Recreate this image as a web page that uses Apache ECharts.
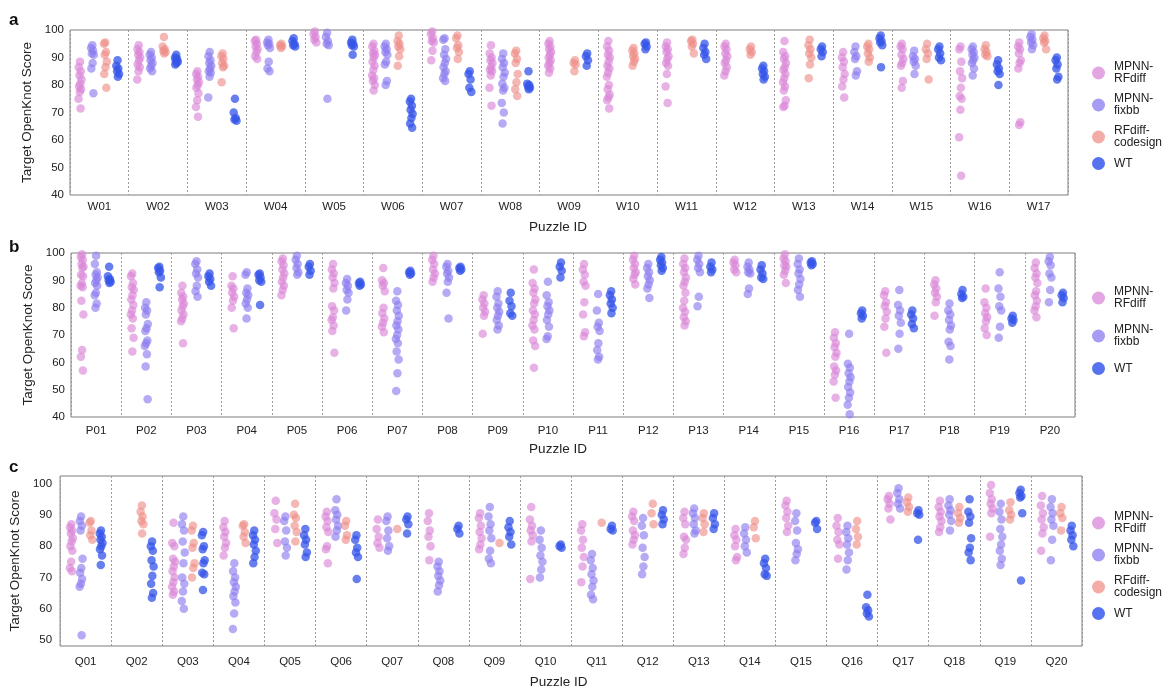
<!DOCTYPE html>
<html>
<head>
<meta charset="utf-8">
<script src="https://cdn.jsdelivr.net/npm/echarts@6/dist/echarts.min.js"></script>
<style>
  html, body { margin: 0; padding: 0; background: #ffffff; }
  #chart { width: 1163px; height: 690px; }
</style>
</head>
<body>
<div id="chart"></div>
<script>
// ---- Puzzle IDs ----
const puzzlesA = ['W01','W02','W03','W04','W05','W06','W07','W08','W09','W10','W11','W12','W13','W14','W15','W16','W17'];
const puzzlesB = ['P01','P02','P03','P04','P05','P06','P07','P08','P09','P10','P11','P12','P13','P14','P15','P16','P17','P18','P19','P20'];
const puzzlesC = ['Q01','Q02','Q03','Q04','Q05','Q06','Q07','Q08','Q09','Q10','Q11','Q12','Q13','Q14','Q15','Q16','Q17','Q18','Q19','Q20'];

// ---- Tick labels ----
const yTicksAB = [40, 50, 60, 70, 80, 90, 100];
const yTicksC = [50, 60, 70, 80, 90, 100];

// ---- Panel a: Target OpenKnot scores, one list per puzzle ----
const rfdiffA = [
  [88.5, 86.5, 85, 83.5, 82, 80.5, 79.5, 78.5, 77.5, 75, 71.5],
  [94.5, 93, 92, 91, 90, 89, 87.5, 86.5, 85, 82],
  [85, 84, 83, 82, 81, 80, 79, 77, 74.5, 72, 68.5],
  [96.5, 96, 95, 94, 93, 92, 90.5, 89.5],
  [99.5, 98.5, 97.5, 96.5, 95.5],
  [95, 94, 92.5, 91.5, 91, 90, 88.5, 87, 85.5, 83.5, 82.5, 81.5, 80, 78],
  [99.5, 98.5, 97, 96, 95.5, 92.5, 89],
  [94.5, 91.5, 90, 89, 88, 86.5, 85.5, 85, 83.5, 79, 72.5],
  [96, 95, 94, 93, 92, 91, 90, 89, 88, 87, 86, 84.5],
  [96, 94, 92.5, 91, 90, 88.5, 87, 86, 84.5, 83, 80, 78.5, 76.5, 75.5, 74.5, 71.5],
  [95.5, 94, 93, 92, 90.5, 89.5, 88, 87, 84, 79.5, 73.5],
  [95, 94, 93, 91.5, 90.5, 89, 88, 86.5, 85, 83.5],
  [96, 92, 90.5, 89.5, 88, 86.5, 85.5, 84, 82.5, 81, 79.5, 78, 74.5, 72.5, 72],
  [92, 90, 88.5, 86.5, 84, 82, 79.5, 75.5],
  [95, 94, 93, 91, 89.5, 88, 87, 81.5, 79],
  [94, 93, 88.5, 85, 82.5, 79, 76, 75, 71, 61, 47],
  [95.5, 94, 93, 91.5, 89, 88, 86, 66.5, 65.5]
];
const fixbbA = [
  [94.5, 93.5, 92.5, 91.5, 91, 88, 86, 77],
  [92, 91, 90, 89, 88, 87, 86, 85],
  [92, 90.5, 89, 88, 87, 86, 85, 84.5, 83, 75.5],
  [96.5, 95.5, 95, 94.5, 93.5, 88.5, 86, 85],
  [99, 97.5, 96, 95, 94.5, 75],
  [95, 94, 93, 92, 91, 88.5, 87.5, 81.5, 80],
  [97, 96.5, 93, 91, 89.5, 88, 86.5, 85, 84, 82.5, 81.5],
  [91.5, 89.5, 88, 86.5, 84.5, 83, 80.5, 79, 78, 73.5, 70, 66],
  [], [], [], [], [],
  [94, 92, 90.5, 89.5, 85, 83.5],
  [92.5, 90.5, 89.5, 88.5, 87, 84],
  [94, 93, 92, 91, 90, 89, 88, 86, 83.5],
  [98.5, 97.5, 96.5, 95.5, 94.5, 93]
];
const codesignA = [
  [95.5, 95, 92, 91, 88.5, 86.5, 84, 79],
  [97.5, 94, 93, 92.5, 92, 91.5],
  [91.5, 90.5, 89.5, 88, 87, 86.5, 81],
  [95, 94.5, 94, 93.5],
  [],
  [98, 96, 95, 94, 93, 90.5, 87],
  [98, 97, 94.5, 93.5, 92, 89.5],
  [92.5, 91.5, 89.5, 88, 84, 81, 78.5, 76],
  [89, 88, 87.5, 85],
  [93.5, 92.5, 91.5, 90.5, 89.5, 88.5, 87],
  [96.5, 96, 95, 94, 91.5],
  [94, 93, 92, 91],
  [96.5, 94.5, 93, 91.5, 90, 87.5, 82.5],
  [95, 94, 93, 91.5, 90, 88.5],
  [95, 93, 91.5, 89.5, 82],
  [94.5, 93, 92, 91, 90.5],
  [98, 97, 96, 95.5, 93]
];
const wtA = [
  [89, 87, 86, 85, 84, 83],
  [91, 90, 89.5, 89, 88.5, 88, 87.5],
  [75, 70, 68, 67.5, 67],
  [97, 96, 95, 94.5, 94],
  [96.5, 95.5, 95, 94.5, 94, 91],
  [75, 74, 72.5, 71, 69.5, 68, 66, 64.5],
  [85, 84, 82, 79, 77.5],
  [85, 80.5, 80, 79.5, 79, 78.5],
  [91.5, 90.5, 89, 87],
  [95.5, 95, 94, 93],
  [95, 93.5, 92, 91, 89.5],
  [87, 86, 85, 84, 83, 82],
  [94, 93, 92, 90.5],
  [98, 97, 96, 95.5, 94.5, 86.5],
  [94, 93, 91.5, 90, 89],
  [89, 87.5, 86, 85, 84, 80],
  [90, 89, 87.5, 86, 83, 82]
];

// ---- Panel b ----
const rfdiffB = [
  [99.5, 98.5, 97.5, 96, 95, 94.5, 92, 91.5, 89, 88, 87.5, 82.5, 77.5, 64.5, 62, 57],
  [92.5, 91.5, 89, 87.5, 86.5, 84.5, 83, 81, 79, 77.5, 76, 72.5, 69, 64],
  [88, 85.5, 84, 83, 81.5, 80.5, 79, 77.5, 76, 75, 67],
  [91.5, 88, 87, 85.5, 84, 82.5, 80, 72.5],
  [98, 97, 95.5, 94, 92.5, 91, 89.5, 88, 86.5, 84.5],
  [96, 94, 92.5, 91, 89, 87, 80.5, 79, 76.5, 75.5, 73.5, 71.5, 63.5],
  [94.5, 90, 89, 88, 86, 80, 78, 76, 74.5, 73, 71],
  [99, 97.5, 96, 94, 92.5, 91, 89.5],
  [84.5, 83, 81.5, 80, 78.5, 77, 70.5],
  [94, 89, 87, 85.5, 83, 81.5, 79, 77.5, 75.5, 73.5, 72, 68, 66, 58],
  [96, 94, 92, 89.5, 88, 82, 77.5, 71, 69.5],
  [99, 97.5, 96, 94.5, 93, 92, 90.5, 88.5],
  [98, 96, 94.5, 93, 91, 89.5, 88, 85.5, 82.5, 80, 78.5, 76.5, 75, 73.5],
  [97.5, 96.5, 95.5, 94, 93],
  [99.5, 98, 97, 95.5, 95, 93.5, 92, 89],
  [71, 69, 67, 65.5, 63.5, 62, 58.5, 57, 55.5, 53, 47],
  [86, 84.5, 82, 80.5, 78.5, 76, 73, 63.5],
  [90, 88.5, 87, 85.5, 84, 82, 77],
  [87, 82, 80, 78, 76.5, 75, 72.5, 70],
  [96.5, 94.5, 92.5, 91, 89, 86, 84.5, 82.5, 80.5, 79, 76.5]
];
const fixbbB = [
  [99, 96, 93, 92, 91, 90, 89, 88, 85.5, 84.5, 81.5, 80],
  [82, 80, 79, 77.5, 74, 72.5, 71.5, 68, 67, 66, 63, 58.5, 46.5],
  [97, 96, 94, 92.5, 91, 88, 86, 84],
  [93, 92, 87, 85.5, 84.5, 83, 81.5, 80, 76],
  [99, 97.5, 96, 94.5, 93, 92],
  [90.5, 89, 88, 86.5, 85.5, 83, 79],
  [86, 82.5, 81, 79, 77, 75, 73.5, 72, 70, 68.5, 67, 64, 61, 56, 49.5],
  [96, 95, 93.5, 92.5, 91, 89.5, 85.5, 76],
  [86, 84, 81.5, 80, 78.5, 77, 75.5, 73.5, 72],
  [89.5, 84.5, 82, 80.5, 79, 77.5, 75.5, 73, 69.5, 68.5],
  [85, 79, 74.5, 73, 71.5, 67, 64.5, 62, 61],
  [96, 94.5, 93, 91.5, 90, 88.5, 87, 83.5],
  [99, 97.5, 96, 94.5, 93, 84, 80.5],
  [96.5, 95, 94, 93, 92.5, 87, 85],
  [98, 96, 94, 92.5, 90.5, 88.5, 86.5, 84],
  [70.5, 59.5, 58, 56, 54.5, 53, 51, 49, 47, 44.5, 41],
  [86.5, 81, 79, 77, 74.5, 70.5, 65],
  [81.5, 79, 77.5, 75.5, 73.5, 72, 67.5, 66, 61],
  [93, 87, 84, 80.5, 79, 73, 69],
  [98.5, 97, 95.5, 92.5, 91, 86.5, 82]
];
const wtB = [
  [95, 91.5, 90.5, 90, 89.5, 89],
  [95, 94.5, 93.5, 93, 91, 87.5],
  [92.5, 91.5, 90.5, 89.5, 88],
  [92.5, 92, 91, 90, 89.5, 81],
  [96, 95, 93.5, 92],
  [89.5, 89, 88.5, 88],
  [93.5, 93, 92.5, 92],
  [95, 94.5, 94, 93.5],
  [85.5, 82.5, 80.5, 78, 77],
  [96.5, 95, 93.5, 91],
  [86, 84.5, 83, 81.5, 80, 78],
  [98.5, 97.5, 96.5, 95.5, 94.5, 93.5],
  [96.5, 95, 94, 93],
  [95.5, 94, 92.5, 91, 90.5],
  [97, 96.5, 96, 95.5],
  [79, 78, 77, 76],
  [79, 77.5, 76, 74, 72.5],
  [86.5, 85, 84, 83.5],
  [77, 76, 75.5, 74.5],
  [85.5, 84.5, 83.5, 82]
];

// ---- Panel c ----
const rfdiffC = [
  [87, 86, 85, 84, 82.5, 81.5, 80, 78.5, 75, 73, 72],
  [],
  [87.5, 81, 80, 76, 75, 73.5, 72, 70, 68.5, 67, 65.5, 64.5],
  [88, 86, 84.5, 83, 81, 79.5, 77],
  [94.5, 90.5, 88.5, 85.5, 81],
  [91, 89.5, 88, 86, 84.5, 80, 79, 74.5],
  [88.5, 85.5, 83, 81, 79.5],
  [90.5, 88, 85, 83, 80, 75.5],
  [90.5, 89, 86.5, 84.5, 82.5, 80.5, 79],
  [92.5, 88.5, 86.5, 85, 83.5, 81.5, 69.5],
  [87, 85, 82, 79.5, 76.5, 73.5, 68.5],
  [91, 89.5, 88, 85, 83.5, 82, 80.5],
  [91, 89, 87, 83, 82, 79.5, 77.5],
  [85.5, 83.5, 82, 80, 76.5, 75.5],
  [94.5, 93, 91, 89, 86.5, 84.5],
  [89, 86.5, 84.5, 82, 80.5, 76],
  [96, 95, 93.5, 92, 88.5],
  [94.5, 92.5, 91, 89.5, 88, 86, 84.5],
  [99.5, 97, 95, 93.5, 92, 90.5, 83],
  [96, 93, 90.5, 88.5, 86, 84, 78.5]
];
const fixbbC = [
  [89.5, 88, 86.5, 85, 76, 73, 71.5, 69.5, 68, 67, 51.5],
  [],
  [89.5, 87, 85, 81.5, 78, 74.5, 70, 68, 65.5, 62.5, 60],
  [74.5, 72, 70, 68.5, 67, 65.5, 64, 62, 58.5, 53.5],
  [89.5, 88, 85, 81.5, 79.5, 77],
  [95, 91.5, 90, 88.5, 86.5, 85, 83],
  [89.5, 88, 85, 82.5, 80, 78.5],
  [75, 73.5, 72, 70.5, 69, 67.5, 65.5],
  [92.5, 89.5, 87, 85, 82.5, 78.5, 76, 74.5],
  [85, 82, 79.5, 77, 75, 72.5, 70],
  [77.5, 75.5, 73, 71, 69, 67, 64.5, 63],
  [89, 86.5, 83.5, 79.5, 76.5, 73.5, 71],
  [92, 90.5, 89, 87, 85, 84],
  [86, 84, 82, 80, 78],
  [90.5, 88, 85, 81, 79, 77.5, 75.5],
  [86.5, 84.5, 82.5, 80.5, 78, 75.5, 72.5],
  [98.5, 97, 95, 93.5, 92],
  [95, 93, 91.5, 90, 88, 85],
  [93.5, 91, 88.5, 85.5, 83, 80.5, 78.5, 76, 74],
  [95, 92.5, 90.5, 88.5, 86.5, 82, 75.5]
];
const codesignC = [
  [88, 87.5, 85, 83.5, 82],
  [93, 91, 89.5, 88, 87, 84],
  [86.5, 85, 81, 79.5, 74.5, 73, 70],
  [87, 86.5, 84.5, 83, 81],
  [93.5, 90, 89, 86.5, 84.5, 81.5],
  [88, 86.5, 83.5, 82],
  [85.5],
  [],
  [81],
  [],
  [87.5],
  [93.5, 90.5, 87],
  [90.5, 89, 87, 84.5],
  [88, 86, 82.5],
  [],
  [88, 85.5, 83, 80.5],
  [95.5, 94, 92.5, 91],
  [92.5, 90.5, 89, 87.5],
  [94, 91.5, 90, 88.5],
  [92.5, 90.5, 89, 85]
];
const wtC = [
  [85, 84, 83, 82, 81, 80, 79, 77, 74],
  [81.5, 80, 78.5, 75.5, 73.5, 70.5, 68, 65, 63.5],
  [84.5, 83.5, 80, 79, 75.5, 74.5, 71.5, 71, 66],
  [85, 83.5, 82, 80.5, 78.5, 76.5, 74.5],
  [85.5, 83.5, 82, 80.5, 78, 76.5],
  [83.5, 82, 79.5, 78, 76.5, 69.5],
  [89.5, 88.5, 87, 84],
  [86.5, 85.5, 84],
  [88, 86, 84.5, 83, 80.5],
  [80.5, 80, 79.5],
  [86.5, 85.5, 85],
  [91.5, 90, 88.5, 87],
  [90.5, 89, 87, 85.5],
  [76, 74.5, 73, 71, 70.5],
  [88, 87.5, 85.5],
  [64.5, 60.5, 59.5, 58.5, 57.5],
  [91.5, 90.5, 90, 82],
  [95, 91, 89.5, 87.5, 82.5, 79.5, 78, 75.5],
  [98, 97, 96, 95.5, 90.5, 69],
  [86.5, 85, 83.5, 82, 80]
];

// ---- Styling ----
const FONT = "'Liberation Sans', Arial, Helvetica, sans-serif";
const TEXT = '#222222';
const pointColor = {
  'MPNN-RFdiff': '#d985d6',
  'MPNN-fixbb': '#8b7cef',
  'RFdiff-codesign': '#ee8f88',
  'WT': '#3656e8'
};
const pointOpacity = { 'MPNN-RFdiff': 0.64, 'MPNN-fixbb': 0.64, 'RFdiff-codesign': 0.64, 'WT': 0.76 };
const legendColor = {
  'MPNN-RFdiff': '#e3a6e2',
  'MPNN-fixbb': '#a79cf3',
  'RFdiff-codesign': '#f4aca8',
  'WT': '#5672ee'
};
const legendText = {
  'MPNN-RFdiff': 'MPNN-\nRFdiff',
  'MPNN-fixbb': 'MPNN-\nfixbb',
  'RFdiff-codesign': 'RFdiff-\ncodesign',
  'WT': 'WT'
};

const panels = [
  {
    letter: 'a', cats: puzzlesA,
    groups: [['MPNN-RFdiff', rfdiffA], ['MPNN-fixbb', fixbbA], ['RFdiff-codesign', codesignA], ['WT', wtA]],
    offsets: [-0.33, -0.12, 0.1, 0.31], jitter: 0.028,
    grid: { left: 70, right: 95, top: 30, height: 165 },
    y: { min: 40, max: 100, ticks: yTicksAB },
    yLabelMargin: 6, xLabelMargin: 6, yNameGap: 35, xNameGap: 25, xNameShift: 22,
    letterY: 12, legendTop: 61, legendGap: 8
  },
  {
    letter: 'b', cats: puzzlesB,
    groups: [['MPNN-RFdiff', rfdiffB], ['MPNN-fixbb', fixbbB], ['WT', wtB]],
    offsets: [-0.28, 0, 0.26], jitter: 0.032,
    grid: { left: 71, right: 88, top: 253, height: 164 },
    y: { min: 40, max: 100, ticks: yTicksAB },
    yLabelMargin: 6, xLabelMargin: 8, yNameGap: 35, xNameGap: 25, xNameShift: 30,
    letterY: 239, legendTop: 286, legendGap: 14
  },
  {
    letter: 'c', cats: puzzlesC,
    groups: [['MPNN-RFdiff', rfdiffC], ['MPNN-fixbb', fixbbC], ['RFdiff-codesign', codesignC], ['WT', wtC]],
    offsets: [-0.28, -0.09, 0.1, 0.3], jitter: 0.032,
    grid: { left: 59, right: 81, top: 476, height: 170 },
    y: { min: 48.1, max: 102.4, ticks: yTicksC },
    yLabelMargin: 8, xLabelMargin: 10, yNameGap: 31, xNameGap: 29, xNameShift: 25,
    letterY: 459, legendTop: 511, legendGap: 8
  }
];

// Deterministic spread of points inside a strip, in [-1, 1]
function spread(j) {
  return ((j * 0.6180339887 + 0.5) % 1) * 2 - 1;
}

const grids = [], xAxes = [], yAxes = [], series = [], legends = [], graphics = [];

panels.forEach((p, pi) => {
  grids.push(Object.assign({ show: true, borderColor: '#7d7d7d', borderWidth: 1, backgroundColor: 'transparent' }, p.grid));

  // Category axis: labels and dashed separators between puzzles
  xAxes.push({
    type: 'category', gridIndex: pi, data: p.cats, boundaryGap: true,
    name: 'Puzzle ID', nameLocation: 'middle', nameGap: p.xNameGap,
    nameTextStyle: { fontFamily: FONT, fontSize: 13.5, color: TEXT, padding: [0, p.xNameShift, 0, 0] },
    axisLine: { show: false }, axisTick: { show: false },
    axisLabel: { interval: 0, margin: p.xLabelMargin, fontFamily: FONT, fontSize: 11.5, color: TEXT },
    splitLine: { show: true, interval: 0, lineStyle: { color: '#9a9a9a', width: 1, type: [2, 2] } }
  });
  // Hidden value axis used to place the strips
  xAxes.push({
    type: 'value', gridIndex: pi, min: -0.5, max: p.cats.length - 0.5, show: false
  });

  const yAxis = {
    type: 'value', gridIndex: pi, min: p.y.min, max: p.y.max,
    name: 'Target OpenKnot Score', nameLocation: 'middle', nameGap: p.yNameGap,
    nameTextStyle: { fontFamily: FONT, fontSize: 13.5, color: TEXT },
    axisLine: { show: false }, axisTick: { show: false }, splitLine: { show: false },
    axisLabel: { margin: p.yLabelMargin, fontFamily: FONT, fontSize: 11.5, color: TEXT, customValues: p.y.ticks }
  };
  if (p.y.min % 10 === 0) { yAxis.interval = 10; }
  yAxes.push(yAxis);

  const valueAxisIndex = pi * 2 + 1;
  p.groups.forEach(([name, values], gi) => {
    const data = [];
    values.forEach((list, ci) => {
      list.forEach((v, j) => {
        data.push([ci + p.offsets[gi] + spread(j) * p.jitter, v]);
      });
    });
    series.push({
      type: 'scatter', name: name, xAxisIndex: valueAxisIndex, yAxisIndex: pi,
      data: data, symbol: 'circle', symbolSize: 8.5,
      itemStyle: { color: pointColor[name], opacity: pointOpacity[name] },
      emphasis: { disabled: true }, silent: true
    });
  });

  legends.push({
    orient: 'vertical', left: 1092, top: p.legendTop, padding: 0,
    itemWidth: 13, itemHeight: 13, itemGap: p.legendGap, icon: 'circle',
    selectedMode: false,
    data: p.groups.map(([name]) => ({ name: name, itemStyle: { color: legendColor[name], opacity: 1 } })),
    formatter: (name) => legendText[name],
    textStyle: { fontFamily: FONT, fontSize: 12, lineHeight: 12, color: TEXT, padding: [0, 0, 0, 4] }
  });

  graphics.push({
    type: 'text', left: 9, top: p.letterY,
    style: { text: p.letter, font: "bold 17px 'Liberation Sans', Arial, sans-serif", fill: '#111' }
  });
});

const chart = echarts.init(document.getElementById('chart'), null, { renderer: 'canvas' });
chart.setOption({
  animation: false,
  backgroundColor: '#ffffff',
  textStyle: { fontFamily: FONT },
  grid: grids,
  xAxis: xAxes,
  yAxis: yAxes,
  legend: legends,
  graphic: graphics,
  series: series
});
</script>
</body>
</html>
